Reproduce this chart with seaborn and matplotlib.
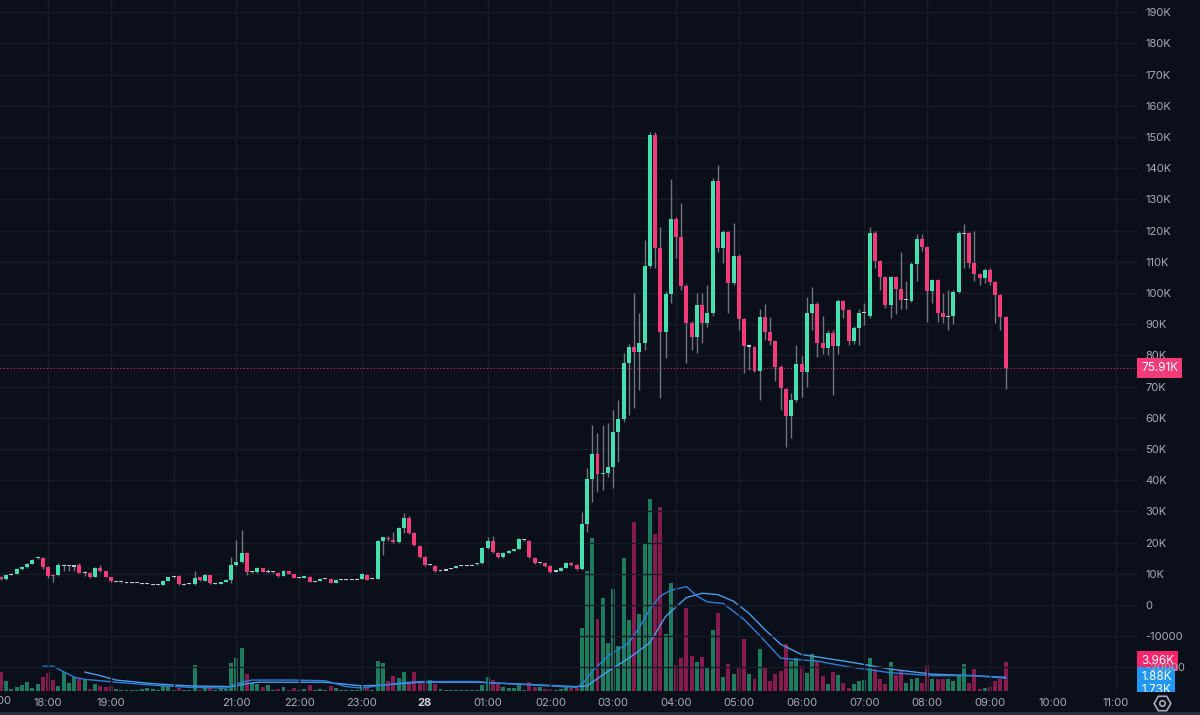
import numpy as np
import pandas as pd
import seaborn as sns
import matplotlib.pyplot as plt
from matplotlib.lines import Line2D
from matplotlib.patches import Rectangle
from matplotlib.transforms import blended_transform_factory

# 5 minute candles from 17:15 to 09:15, prices in thousands
opens = [
    9.0, 8.3, 9.7, 9.9, 11.6, 12.2, 13.3, 15.0, 15.2,                      # 17h
    12.2, 9.6, 9.5, 12.7, 12.6, 12.5, 12.8, 10.3, 10.4, 9.1, 11.9, 10.8,   # 18h
    9.0, 7.5, 7.4, 7.3, 7.2, 7.1, 7.0, 6.8, 6.6, 6.5, 6.4, 7.7,            # 19h
    9.0, 9.3, 6.7, 6.8, 6.8, 8.9, 7.8, 9.6, 6.8, 6.8, 7.4, 7.9,            # 20h
    12.8, 13.8, 16.7, 10.6, 10.6, 11.9, 10.6, 10.6, 10.3, 9.3, 10.9, 9.9,  # 21h
    8.7, 8.7, 9.0, 7.6, 7.7, 8.4, 8.4, 7.1, 8.2, 8.3, 8.3, 8.3,            # 22h
    8.3, 9.7, 8.5, 8.4, 20.5, 21.6, 20.9, 20.2, 24.7, 27.9, 23.1, 18.9,    # 23h
    15.4, 13.1, 12.6, 11.0, 11.2, 11.6, 11.9, 12.6, 12.7, 12.8, 13.0, 13.4,  # 00h
    18.3, 20.5, 16.7, 15.4, 16.7, 17.3, 17.9, 20.9, 20.5, 15.1, 13.5, 13.5,  # 01h
    12.5, 10.9, 10.9, 11.9, 13.5, 12.8, 11.5, 26.0, 40.4, 48.4, 42.0, 42.3,  # 02h
    44.2, 55.4, 59.6, 77.6, 82.7, 81.1, 84.0, 108.7, 150.6, 114.4, 87.5, 99.7,  # 03h
    123.7, 117.9, 102.2, 90.4, 85.9, 96.2, 90.4, 93.6, 135.9, 114.4, 119.6, 103.2,  # 04h
    111.9, 91.7, 83.0, 82.7, 75.0, 92.3, 87.5, 84.6, 76.3, 69.2, 60.6, 65.7,  # 05h
    77.2, 74.7, 93.6, 96.5, 84.0, 82.4, 87.2, 83.0, 97.4, 94.6, 84.6, 88.8,  # 06h
    93.6, 92.6, 119.2, 110.3, 105.1, 96.2, 105.1, 101.3, 97.8, 97.4, 109.3, 117.3,  # 07h
    114.7, 100.6, 104.2, 93.6, 92.6, 92.6, 100.3, 119.2, 119.2, 109.6, 106.1, 104.8,  # 08h
    107.5, 103.5, 99.4, 92.3,                                              # 09h
]
highs = [
    9.2, 9.8, 10.2, 12.0, 12.5, 13.6, 14.7, 15.8, 15.4,
    12.4, 10.0, 13.5, 13.0, 12.9, 12.8, 13.6, 10.9, 10.6, 12.2, 12.9, 11.0,
    9.1, 7.7, 7.5, 7.4, 7.3, 7.2, 7.1, 6.9, 6.7, 6.6, 7.9, 9.1,
    9.4, 9.5, 6.9, 7.0, 11.0, 9.1, 9.9, 9.7, 7.0, 7.5, 8.2, 15.4,
    20.8, 24.0, 16.9, 11.0, 12.2, 12.0, 11.6, 10.8, 10.5, 11.1, 11.0, 10.0,
    8.9, 9.4, 9.2, 7.8, 8.5, 8.6, 8.5, 8.2, 8.4, 8.4, 8.4, 8.6,
    10.1, 9.8, 8.8, 20.8, 21.9, 22.0, 23.4, 25.0, 29.5, 28.5, 23.3, 19.1,
    15.6, 13.3, 12.8, 11.2, 11.5, 11.9, 12.6, 12.8, 12.8, 13.1, 13.6, 18.6,
    21.8, 22.1, 16.9, 16.9, 17.5, 18.1, 21.6, 21.1, 20.7, 15.3, 13.6, 13.7,
    12.7, 11.1, 12.1, 13.7, 13.7, 13.0, 29.8, 43.9, 57.7, 55.1, 57.7, 58.3,
    62.5, 65.7, 80.8, 83.5, 100.0, 93.6, 117.0, 151.6, 151.6, 121.2, 100.5, 136.5,
    124.5, 128.8, 103.0, 91.0, 100.0, 100.0, 102.6, 137.0, 141.0, 120.2, 120.0, 122.4,
    112.5, 92.0, 83.5, 83.0, 94.9, 96.5, 92.3, 85.0, 77.0, 69.5, 67.9, 83.3,
    79.8, 98.7, 101.9, 97.0, 92.6, 88.0, 88.0, 98.0, 97.8, 95.0, 89.5, 94.9,
    96.8, 121.2, 119.8, 110.5, 105.3, 105.5, 105.5, 113.1, 103.8, 109.9, 118.9, 118.9,
    115.0, 104.5, 104.5, 100.0, 101.0, 101.0, 119.8, 122.1, 119.5, 119.9, 106.5, 108.0,
    108.0, 104.0, 99.8, 92.5,
]
lows = [
    8.0, 7.9, 9.5, 9.8, 11.3, 11.8, 13.0, 14.6, 11.6,
    8.7, 7.4, 9.3, 11.0, 10.8, 10.8, 10.1, 9.3, 8.8, 9.0, 10.6, 8.9,
    7.3, 7.3, 7.2, 7.1, 7.0, 6.9, 6.8, 6.6, 6.3, 6.3, 6.3, 7.6,
    8.7, 6.4, 6.5, 6.6, 6.5, 7.7, 7.6, 6.7, 6.6, 6.7, 7.3, 7.1,
    12.5, 13.5, 9.6, 10.2, 10.4, 10.5, 10.4, 10.3, 9.1, 9.2, 9.8, 8.5,
    8.5, 8.6, 7.3, 7.4, 7.6, 8.2, 7.0, 7.0, 8.1, 8.1, 8.2, 8.2,
    8.2, 7.9, 8.3, 8.2, 16.0, 20.6, 19.8, 20.0, 23.0, 22.8, 19.0, 15.2,
    12.5, 12.9, 10.7, 10.8, 11.1, 11.5, 11.8, 12.5, 12.6, 12.7, 12.9, 13.2,
    18.0, 16.8, 15.2, 15.2, 16.6, 17.2, 17.8, 20.6, 15.2, 13.3, 13.3, 12.3,
    10.4, 10.7, 10.8, 11.8, 12.6, 11.3, 11.3, 23.4, 33.0, 36.2, 36.9, 41.0,
    37.5, 45.8, 58.7, 60.9, 63.1, 68.9, 81.7, 108.0, 108.0, 66.3, 79.2, 96.8,
    111.2, 101.0, 77.6, 81.7, 80.8, 84.0, 89.1, 92.5, 113.0, 109.6, 93.6, 102.5,
    88.1, 74.4, 75.3, 74.7, 65.7, 85.0, 83.3, 71.8, 62.5, 50.6, 53.5, 65.0,
    66.7, 70.0, 88.1, 79.5, 80.4, 80.0, 67.3, 80.4, 92.0, 83.3, 83.5, 83.3,
    89.7, 92.0, 108.0, 101.0, 95.2, 92.0, 93.3, 94.9, 94.9, 97.0, 103.8, 113.5,
    90.7, 96.8, 90.7, 90.4, 88.1, 90.0, 100.0, 108.0, 108.0, 103.8, 102.5, 103.2,
    102.5, 90.4, 88.1, 69.2,
]
closes = [
    8.3, 9.6, 9.7, 11.6, 12.2, 13.3, 14.4, 15.3, 12.2,
    9.3, 9.3, 12.9, 12.7, 12.6, 12.5, 10.4, 10.3, 9.0, 11.8, 10.9, 9.1,
    7.6, 7.5, 7.4, 7.3, 7.2, 7.1, 7.0, 6.8, 6.6, 6.5, 7.7, 8.9,
    9.0, 6.6, 6.7, 6.8, 8.6, 7.9, 9.6, 6.9, 6.8, 7.3, 8.0, 12.8,
    13.8, 16.7, 10.6, 10.6, 11.9, 10.6, 10.6, 10.6, 9.3, 10.9, 9.9, 8.7,
    8.7, 9.3, 7.4, 7.6, 8.3, 8.4, 7.1, 8.1, 8.2, 8.3, 8.3, 8.3,
    9.9, 8.0, 8.5, 20.5, 21.8, 21.2, 20.2, 24.7, 27.9, 23.1, 19.2, 15.4,
    12.8, 13.1, 10.9, 11.0, 11.2, 11.6, 12.5, 12.6, 12.7, 12.8, 13.5, 18.3,
    20.5, 17.0, 15.4, 16.7, 17.3, 17.9, 21.2, 20.9, 15.4, 13.5, 13.5, 12.5,
    10.6, 10.9, 11.9, 13.5, 12.8, 11.5, 26.0, 40.4, 48.4, 42.0, 42.3, 44.2,
    55.4, 59.6, 77.6, 82.7, 81.1, 84.0, 108.7, 150.6, 114.4, 87.5, 99.7, 123.7,
    117.9, 102.2, 90.4, 85.9, 96.2, 90.4, 93.6, 135.9, 114.4, 119.6, 103.2, 111.9,
    91.7, 83.0, 83.0, 75.0, 92.3, 87.5, 84.6, 76.3, 69.6, 60.6, 65.7, 77.2,
    74.7, 93.6, 96.5, 84.0, 82.4, 87.2, 83.0, 97.4, 94.6, 84.6, 88.8, 93.6,
    93.6, 119.2, 110.3, 105.1, 96.2, 105.1, 101.3, 97.8, 97.8, 109.3, 117.3, 114.7,
    100.6, 104.2, 93.6, 92.3, 92.6, 100.3, 119.2, 119.2, 109.6, 106.1, 104.8, 107.5,
    103.5, 99.4, 92.3, 75.91,
]
volumes = [
    2.6, 1.4, 0.3, 0.5, 0.8, 1.2, 0.4, 1.0, 1.9,
    2.5, 1.5, 0.7, 2.6, 1.1, 1.9, 1.6, 1.5, 0.3, 1.0, 0.7, 0.5,
    0.7, 0.3, 0.2, 0.1, 0.1, 0.2, 0.3, 0.4, 0.3, 0.2, 0.7, 0.7,
    0.2, 0.4, 0.1, 0.2, 3.6, 0.2, 0.4, 0.4, 0.1, 0.4, 0.3, 3.8,
    4.5, 5.9, 2.3, 1.1, 1.0, 0.5, 0.8, 0.2, 0.3, 0.5, 0.2, 0.4,
    0.2, 0.3, 0.8, 0.2, 0.3, 0.2, 0.7, 0.4, 0.1, 0.2, 0.2, 0.1,
    0.7, 0.4, 0.2, 4.1, 3.8, 1.4, 2.1, 1.8, 2.6, 1.1, 2.6, 1.1,
    1.4, 1.5, 1.0, 0.3, 0.2, 0.2, 0.2, 0.1, 0.1, 0.1, 0.1, 0.8,
    1.9, 1.5, 1.0, 0.5, 0.4, 0.4, 1.1, 0.2, 1.2, 0.5, 0.5, 0.3,
    0.3, 0.2, 0.3, 0.5, 0.4, 0.4, 8.6, 16.4, 21.0, 9.9, 12.7, 6.6,
    14.0, 6.2, 18.2, 9.7, 23.2, 10.5, 20.3, 26.3, 21.5, 25.2, 7.8, 14.8,
    3.6, 4.5, 11.4, 4.8, 4.0, 4.7, 3.3, 8.4, 10.7, 1.9, 3.7, 2.3,
    3.2, 7.1, 2.3, 1.6, 5.8, 3.2, 1.4, 2.3, 2.7, 6.4, 4.1, 4.5,
    3.4, 2.5, 5.1, 4.1, 2.1, 1.0, 2.6, 2.2, 1.1, 0.4, 1.0, 1.4,
    1.5, 4.5, 3.0, 1.6, 1.0, 4.0, 2.2, 2.7, 1.1, 1.6, 1.8, 1.1,
    3.6, 1.6, 1.6, 1.6, 1.6, 1.4, 2.2, 3.7, 1.1, 3.0, 0.3, 0.4,
    0.5, 1.4, 1.6, 3.96,
]

# volume moving averages
ma_fast_times = ["17:55", "18:05", "18:10", "18:25", "18:35", "19:05", "19:40", "20:15", "20:50",
                 "21:05", "21:15", "21:55", "22:25", "22:45", "23:00", "23:15", "23:35", "23:55",
                 "00:50", "01:05", "01:45", "02:25", "02:30", "02:35", "02:40", "02:55", "03:15",
                 "03:25", "03:35", "03:45", "03:55", "04:10", "04:20", "04:30", "04:45", "05:05",
                 "05:20", "05:40", "05:55", "06:15", "06:45", "07:25", "08:05", "08:45", "09:15"]
ma_fast = [3.4, 3.4, 3.0, 1.9, 1.6, 1.2, 0.8, 0.5, 0.4,
           1.2, 1.5, 1.5, 1.4, 0.6, 0.4, 0.7, 1.1, 1.3,
           1.3, 1.1, 0.8, 0.5, 0.9, 1.7, 2.7, 4.8, 6.6,
           8.7, 11.2, 13.0, 13.8, 14.3, 13.0, 12.2, 12.0, 9.8,
           7.6, 4.5, 4.3, 4.1, 3.3, 2.5, 2.1, 2.1, 1.73]
ma_slow_times = ["18:35", "18:50", "19:05", "19:40", "20:15", "20:55", "21:10", "21:20", "22:25",
                 "23:00", "23:20", "23:55", "00:50", "01:25", "02:25", "02:35", "02:55", "03:15",
                 "03:35", "03:50", "04:10", "04:25", "04:40", "04:55", "05:10", "05:25", "05:40",
                 "06:00", "06:45", "07:25", "08:05", "08:45", "09:15"]
ma_slow = [2.6, 2.1, 1.5, 1.0, 0.7, 0.6, 1.0, 1.2, 1.2,
           0.7, 0.8, 1.2, 1.2, 1.0, 0.6, 0.7, 2.7, 4.5,
           6.6, 10.2, 12.8, 13.4, 13.2, 12.3, 10.6, 8.4, 6.4,
           5.0, 4.0, 3.0, 2.3, 2.1, 1.88]

last_price = 75.91
hour_labels = ["18:00", "19:00", "", "21:00", "22:00", "23:00", "28", "01:00", "02:00", "03:00",
               "04:00", "05:00", "06:00", "07:00", "08:00", "09:00", "10:00", "11:00"]
price_ticks = list(range(-20, 200, 10))

BG = "#0b0f19"
GRID = "#171c28"
TXT = "#a9acb5"
GREEN = "#45e0b0"
PINK = "#f23b78"
VGREEN = "#1d7c5e"
VPINK = "#861b4d"
WICK = "#70747f"
BLUE1 = "#2b7fd8"
BLUE2 = "#4a9cec"


def to_hours(s):
    hh, mm = map(int, s.split(":"))
    if hh < 12:
        hh += 24
    return hh + mm / 60 - 18


sns.set_theme(style="dark", rc={"axes.facecolor": BG, "figure.facecolor": BG,
                                "axes.edgecolor": BG, "text.color": TXT,
                                "xtick.color": TXT, "ytick.color": TXT})
plt.rcParams["font.family"] = ["Inter", "DejaVu Sans"]

o = np.array(opens)
h = np.array(highs)
l = np.array(lows)
c = np.array(closes)
v = np.array(volumes)
t = pd.date_range("2024-01-27 17:15", periods=len(c), freq="5min")
x = np.asarray((t - pd.Timestamp("2024-01-27 18:00")) / pd.Timedelta(hours=1))

fig = plt.figure(figsize=(12, 7.15), dpi=100)
ax = fig.add_axes([0, 24 / 715, 1137 / 1200, 691 / 715])
axv = ax.twinx()
ax.set_zorder(2)
axv.set_zorder(1)
ax.patch.set_visible(False)
axv.set_facecolor(BG)

xmin, xmax = -48 / 62.8, 1089 / 62.8
ax.set_xlim(xmin, xmax)
ax.set_ylim(-27.56, 193.9)
axv.set_ylim(0, 691 * 0.137)

bw = 0.76 / 12

# volume bars and their moving averages
vcol = np.where(c >= o, VGREEN, VPINK)
axv.bar(x, v, width=bw, color=vcol, linewidth=0)
sns.lineplot(x=[to_hours(s) for s in ma_slow_times], y=ma_slow, ax=axv, color=BLUE2, linewidth=1)
sns.lineplot(x=[to_hours(s) for s in ma_fast_times], y=ma_fast, ax=axv, color=BLUE1, linewidth=1)
axv.set_yticks([])
axv.set_ylabel("")
axv.grid(False)
for sp in axv.spines.values():
    sp.set_visible(False)

# candles
col = np.where(c > o, GREEN, np.where(c < o, PINK, "#c3c6ce"))
ax.vlines(x, l, h, color=WICK, linewidth=1, zorder=2)
body_h = np.maximum(np.abs(c - o), 0.35)
body_lo = np.where(c == o, o - 0.17, np.minimum(o, c))
ax.bar(x, body_h, bottom=body_lo, width=bw, color=col, linewidth=0, zorder=3)

ax.axhline(last_price, color=PINK, linewidth=0.8, linestyle=(0, (1, 2)), alpha=0.85, zorder=1)

# axes, ticks, grid
ax.set_xticks(range(0, 18))
ax.set_xticklabels(hour_labels)
ax.set_yticks(price_ticks)
ylabels = []
for p in price_ticks:
    if p == 0:
        ylabels.append("0")
    elif p < 0:
        ylabels.append(str(p * 1000))
    else:
        ylabels.append(f"{p}K")
ax.set_yticklabels(ylabels)
ax.yaxis.tick_right()
ax.tick_params(axis="y", length=0, pad=6, labelsize=8, colors=TXT)
ax.tick_params(axis="x", length=0, pad=5, labelsize=8, colors=TXT)
for lab in ax.get_xticklabels():
    if lab.get_text() == "28":
        lab.set_fontweight("bold")
        lab.set_color("#d1d4dc")
ax.grid(True, color=GRID, linewidth=1)
for sp in ax.spines.values():
    sp.set_visible(False)

xt = blended_transform_factory(ax.transAxes, ax.transAxes)
ax.text(11 / 1137, -0.0075, "17:00", transform=xt, ha="right", va="top", fontsize=8,
        color=TXT, clip_on=False)

# value tags on the price scale
tag = dict(boxstyle="square,pad=0.32", ec="none")
tx = 1 + 4 / 1137
ax.text(tx, last_price, "75.91K", transform=blended_transform_factory(ax.transAxes, ax.transData),
        ha="left", va="center", fontsize=8.5, color="white", bbox=dict(tag, fc=PINK), clip_on=False, zorder=5)
vt = blended_transform_factory(axv.transAxes, axv.transData)
axv.text(tx, 4.1, "3.96K", transform=vt, ha="left", va="center", fontsize=8.5,
         color="white", bbox=dict(tag, fc="#f7256b"), clip_on=False, zorder=5)
axv.text(tx, 1.88, "1.88K", transform=vt, ha="left", va="center", fontsize=8.5,
         color="white", bbox=dict(tag, fc="#2196f3"), clip_on=False, zorder=6)
axv.text(tx, 1.88 - 1.75, "1.73K", transform=vt, ha="left", va="center", fontsize=8.5,
         color="white", bbox=dict(tag, fc="#2196f3"), clip_on=False, zorder=7)

# hide what spills below the pane on the price scale, then the bottom bits
fig.add_artist(Rectangle((1137 / 1200, 0), 63 / 1200, 23 / 715, transform=fig.transFigure,
                         facecolor=BG, edgecolor="none", zorder=10))
fig.add_artist(Rectangle((0, 0), 1, 3 / 715, transform=fig.transFigure,
                         facecolor="#2a2e39", edgecolor="none", zorder=11))
fig.add_artist(Line2D([1162 / 1200], [12 / 715], marker="H", markersize=12, markerfacecolor="none",
                      markeredgecolor=TXT, markeredgewidth=1.2, transform=fig.transFigure, zorder=12))
fig.add_artist(Line2D([1162 / 1200], [12 / 715], marker="o", markersize=4, markerfacecolor="none",
                      markeredgecolor=TXT, markeredgewidth=1.2, transform=fig.transFigure, zorder=12))

fig.savefig("out.png", dpi=100, facecolor=BG)
